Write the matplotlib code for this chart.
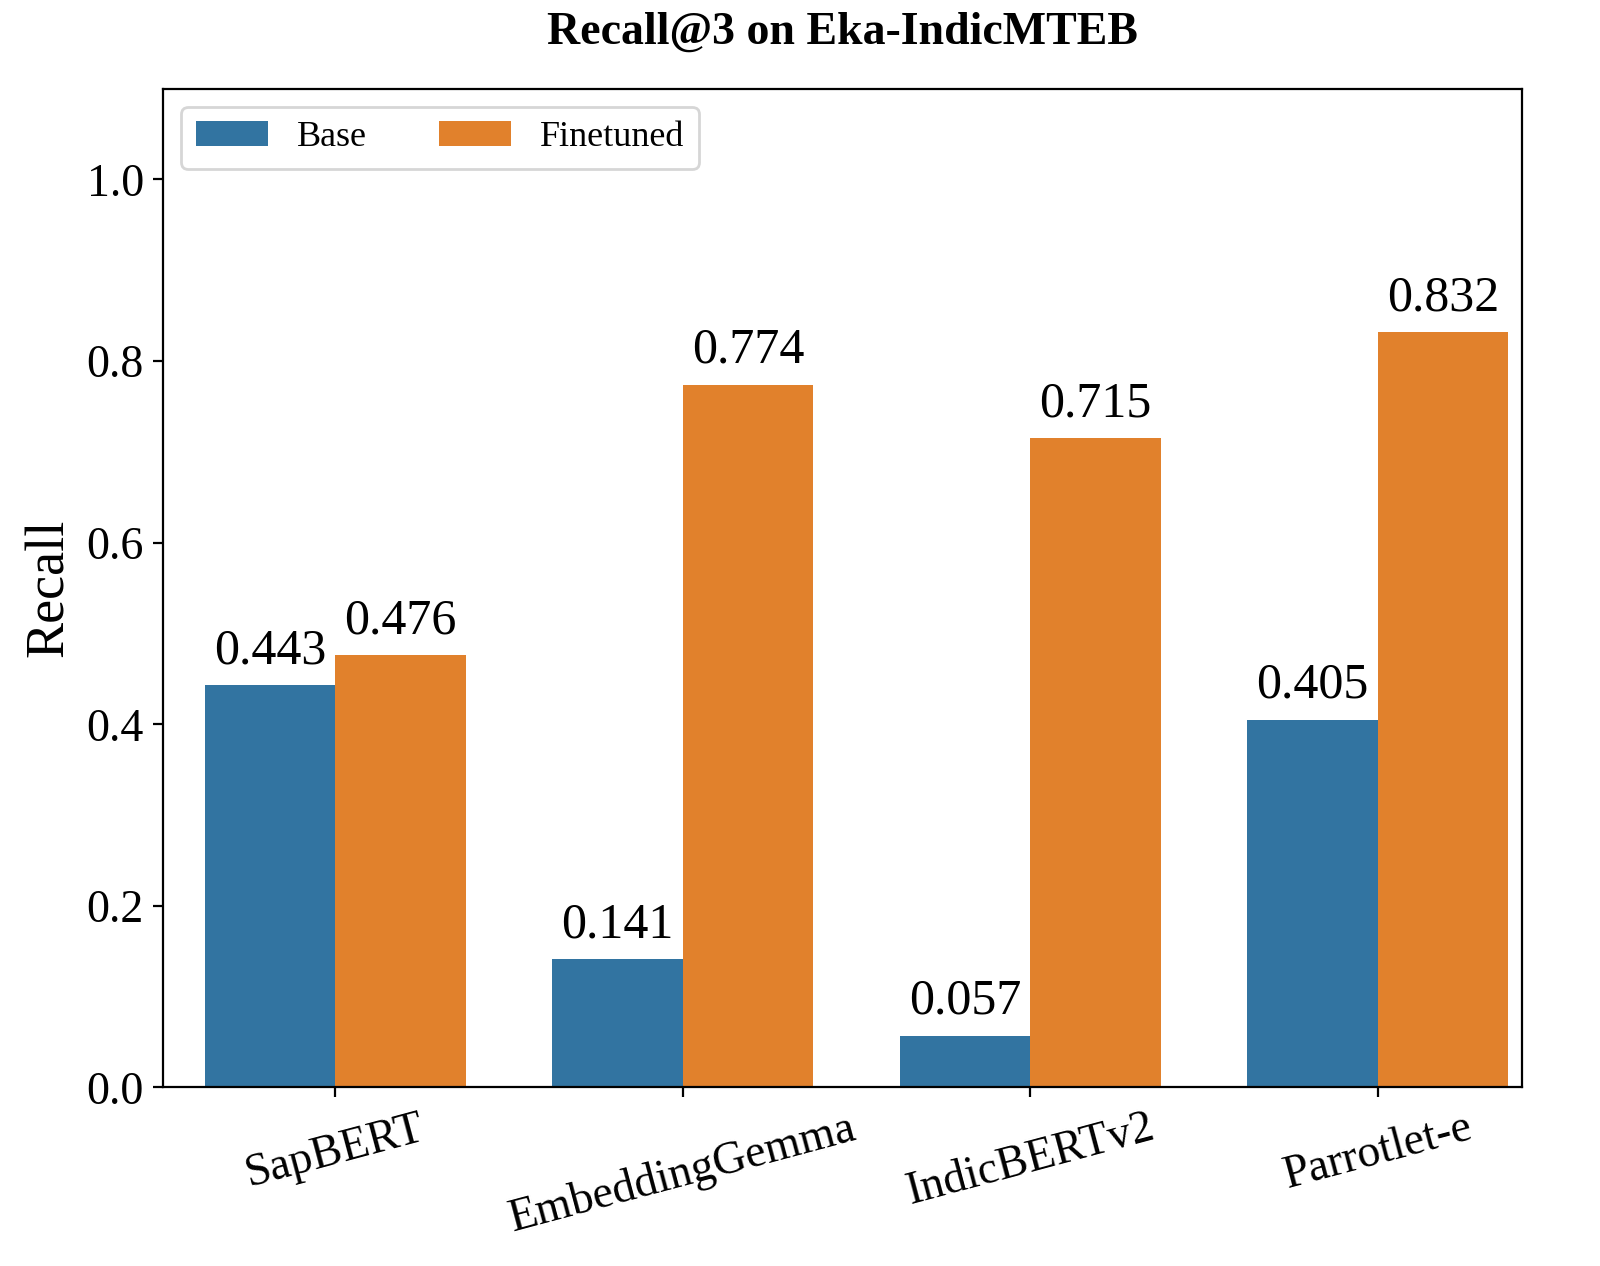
import numpy as np
import matplotlib
matplotlib.use('Agg')
import matplotlib.pyplot as plt

models = ['SapBERT', 'EmbeddingGemma', 'IndicBERTv2', 'Parrotlet-e']
base = [0.443, 0.141, 0.057, 0.405]
finetuned = [0.476, 0.774, 0.715, 0.832]

plt.rcParams['font.family'] = ['Liberation Serif', 'DejaVu Serif']

fig = plt.figure(figsize=(8, 6.33), dpi=200)
ax = fig.add_axes([0.102, 0.141, 0.849, 0.789])

x = np.arange(len(models))
w = 0.375
b1 = ax.bar(x - w / 2, base, w, color='#3274a1', label='Base')
b2 = ax.bar(x + w / 2, finetuned, w, color='#e1812c', label='Finetuned')

for bars in (b1, b2):
    for r in bars:
        ax.text(r.get_x() + r.get_width() / 2, r.get_height() + 0.012,
                f'{r.get_height():.3f}', ha='center', va='bottom', fontsize=18)

ax.set_xticks(x)
ax.set_xticklabels(models, rotation=15, fontsize=16.5)
ax.tick_params(axis='y', labelsize=16.5)
ax.set_ylim(0, 1.1)
ax.set_xlim(-0.495, 3.414)
ax.set_yticks([0.0, 0.2, 0.4, 0.6, 0.8, 1.0])
ax.set_ylabel('Recall', fontsize=19.5)
ax.set_title('Recall@3 on Eka-IndicMTEB', fontsize=16.5, fontweight='bold', pad=16)
ax.legend(loc='upper left', ncol=2, fontsize=13, columnspacing=2)

fig.savefig('out.png', dpi=200)
